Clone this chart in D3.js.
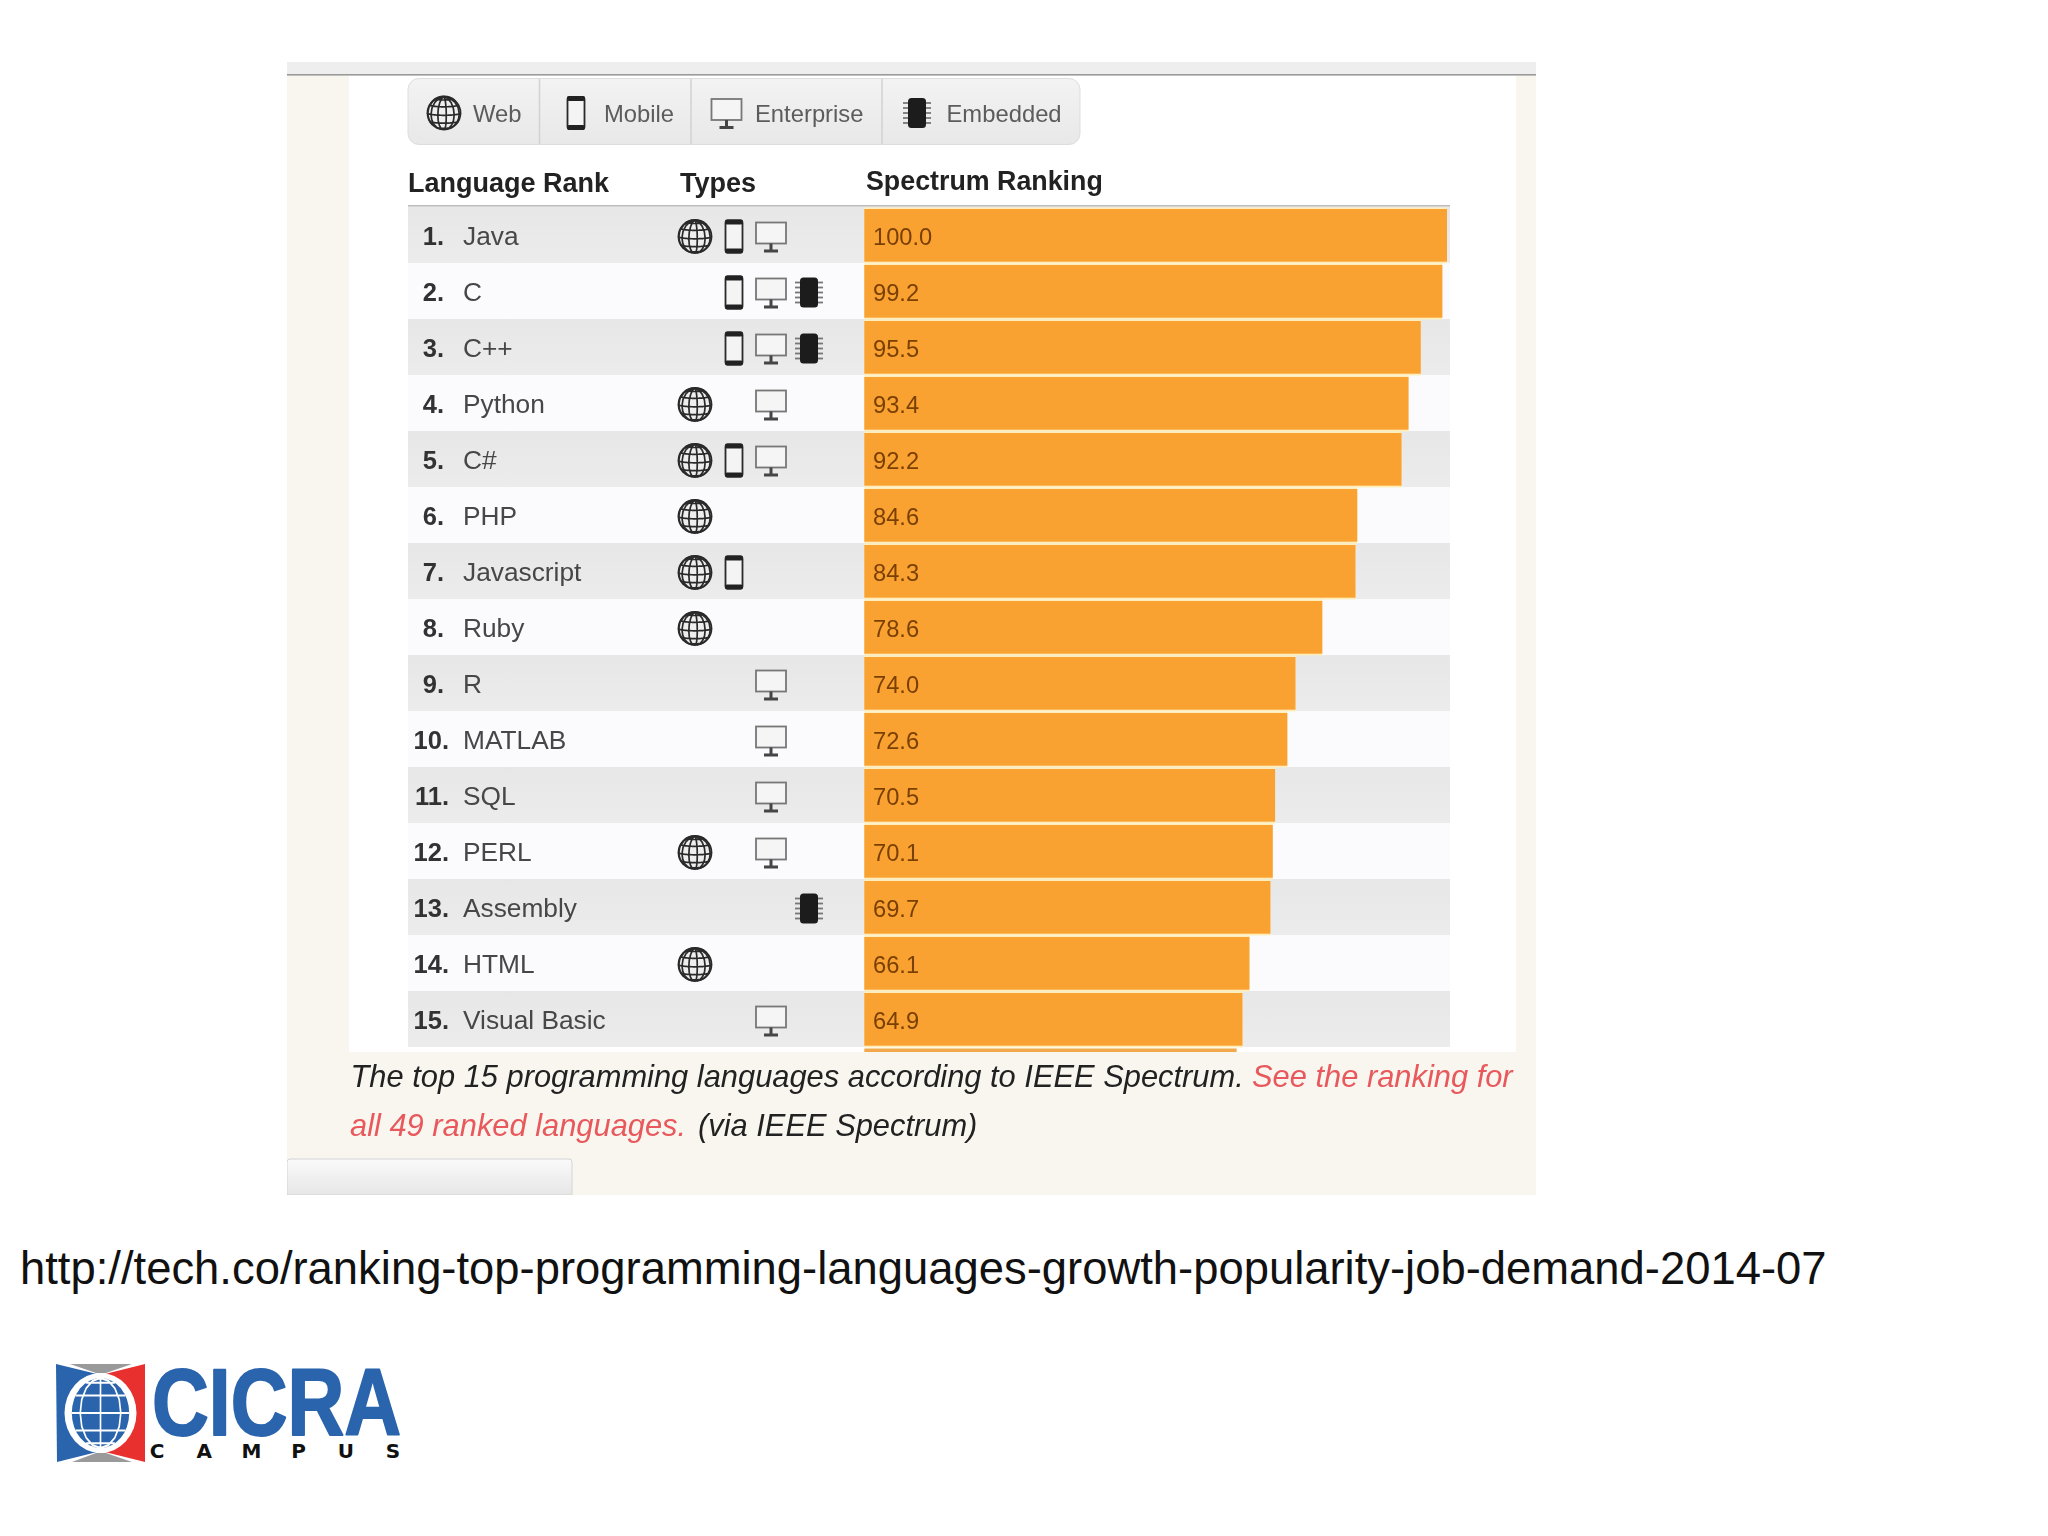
<!DOCTYPE html>
<html>
<head>
<meta charset="utf-8">
<script src="https://cdnjs.cloudflare.com/ajax/libs/d3/7.8.5/d3.min.js"></script>
<style>
  body { margin: 0; background: #fff; }
  text { font-family: "Liberation Sans", Arial, sans-serif; }
</style>
</head>
<body>
<script>
// chart values
let languages = ["Java", "C", "C++", "Python", "C#", "PHP", "Javascript", "Ruby", "R", "MATLAB", "SQL", "PERL", "Assembly", "HTML", "Visual Basic"];
let scores = [100.0, 99.2, 95.5, 93.4, 92.2, 84.6, 84.3, 78.6, 74.0, 72.6, 70.5, 70.1, 69.7, 66.1, 64.9];
let languageTypes = [
  ["Web", "Mobile", "Enterprise"],
  ["Mobile", "Enterprise", "Embedded"],
  ["Mobile", "Enterprise", "Embedded"],
  ["Web", "Enterprise"],
  ["Web", "Mobile", "Enterprise"],
  ["Web"],
  ["Web", "Mobile"],
  ["Web"],
  ["Enterprise"],
  ["Enterprise"],
  ["Enterprise"],
  ["Web", "Enterprise"],
  ["Embedded"],
  ["Web"],
  ["Enterprise"],
];
let typeNames = ["Web", "Mobile", "Enterprise", "Embedded"];
let nextScore = 63.9; // only the top edge of rank 16 shows under the table
let campusLetters = ["C", "A", "M", "P", "U", "S"];

let captionBlack = "The top 15 programming languages according to IEEE Spectrum.";
let captionRed1 = "See the ranking for";
let captionRed2 = "all 49 ranked languages.";
let captionBlack2 = "(via IEEE Spectrum)";
let sourceUrl = "http://tech.co/ranking-top-programming-languages-growth-popularity-job-demand-2014-07";

let svg = d3.select("body").append("svg").attr("width", 2048).attr("height", 1536);

let defs = svg.append("defs");
let addGradient = function (id, top, bottom) {
  let g = defs.append("linearGradient").attr("id", id).attr("x1", 0).attr("x2", 0).attr("y1", 0).attr("y2", 1);
  g.append("stop").attr("offset", "0%").attr("stop-color", top);
  g.append("stop").attr("offset", "100%").attr("stop-color", bottom);
};
addGradient("rowGrey", "#e7e7e8", "#ececed");
addGradient("toolbarGrey", "#f3f3f3", "#e8e8e8");
addGradient("tabGrey", "#fafafa", "#e6e6e6");

// the panel is a pasted screenshot, so it is a little soft
defs.append("filter").attr("id", "soft").attr("x", 0).attr("y", 0).attr("width", 1).attr("height", 1)
  .append("feGaussianBlur").attr("stdDeviation", 0.55);

// scales
let x = d3.scaleLinear().domain([0, 100]).range([864.3, 1447]);
let rows = d3.scaleBand().domain(d3.range(1, 17)).range([207, 1103]);
let typeX = d3.scaleOrdinal().domain(typeNames).range([695, 734, 771, 809]);
let toolbarX = d3.scaleOrdinal().domain(typeNames).range([444, 576, 726.5, 917]);
let toolbarTextX = d3.scaleOrdinal().domain(typeNames).range([473, 604, 755, 946.5]);

let panel = svg.append("g").attr("filter", "url(#soft)");

// page panel
panel.append("rect").attr("x", 287).attr("y", 62).attr("width", 1249).attr("height", 1133).attr("fill", "#f8f6ee");
panel.append("rect").attr("x", 349).attr("y", 75).attr("width", 1167).attr("height", 977).attr("fill", "#fff");
panel.append("rect").attr("x", 287).attr("y", 62).attr("width", 1249).attr("height", 13).attr("fill", "#eeeeee");
panel.append("rect").attr("x", 287).attr("y", 74).attr("width", 1249).attr("height", 1.6).attr("fill", "#9a9a9a");
panel.append("path").attr("d", "M287,1195V1162q0,-3,3,-3H569q3,0,3,3V1195Z").attr("fill", "url(#tabGrey)").attr("stroke", "#d4d4d4");

// icons, drawn around 0,0
let globeIcon = function (g) {
  let projection = d3.geoOrthographic().scale(16.5).translate([0, 0]).rotate([8, -8]).clipAngle(90);
  let path = d3.geoPath(projection);
  g.append("circle").attr("r", 16.5).attr("fill", "#eee").attr("stroke", "#2a2a2a").attr("stroke-width", 1.8);
  g.append("path").datum(d3.geoGraticule().step([30, 30])()).attr("d", path).attr("fill", "none").attr("stroke", "#2a2a2a").attr("stroke-width", 1.7);
};
let phoneIcon = function (g) {
  g.append("rect").attr("x", -8.5).attr("y", -16).attr("width", 17).attr("height", 32).attr("rx", 2.5).attr("fill", "#f4f4f4").attr("stroke", "#2a2a2a").attr("stroke-width", 1.8);
  g.append("rect").attr("x", -9).attr("y", -17).attr("width", 18).attr("height", 5).attr("rx", 2).attr("fill", "#222");
  g.append("rect").attr("x", -9).attr("y", 12).attr("width", 18).attr("height", 5).attr("rx", 2).attr("fill", "#222");
};
let monitorIcon = function (g) {
  g.append("rect").attr("x", -15).attr("y", -14).attr("width", 30).attr("height", 21).attr("fill", "#f5f5f5").attr("stroke", "#777").attr("stroke-width", 1.8);
  g.append("rect").attr("x", -1.5).attr("y", 7).attr("width", 3).attr("height", 7).attr("fill", "#444");
  g.append("rect").attr("x", -7).attr("y", 13).attr("width", 14).attr("height", 3).attr("fill", "#444");
};
let chipIcon = function (g) {
  g.selectAll("rect.pin").data(d3.range(-10, 11, 5)).join("rect").attr("class", "pin")
    .attr("x", -14).attr("y", (d) => d - 0.9).attr("width", 28).attr("height", 1.8).attr("fill", "#777");
  g.append("rect").attr("x", -9).attr("y", -15).attr("width", 18).attr("height", 30).attr("rx", 3.5).attr("fill", "#1c1c1c");
};
let iconFor = { Web: globeIcon, Mobile: phoneIcon, Enterprise: monitorIcon, Embedded: chipIcon };

// toolbar
panel.append("rect").attr("x", 408).attr("y", 78.5).attr("width", 672).attr("height", 66).attr("rx", 11).attr("fill", "url(#toolbarGrey)").attr("stroke", "#dddddd");
panel.selectAll("line.divider").data([539.5, 691, 882]).join("line").attr("class", "divider")
  .attr("x1", (d) => d).attr("x2", (d) => d).attr("y1", 79).attr("y2", 144).attr("stroke", "#d2d2d2").attr("stroke-width", 1.5);
typeNames.forEach(function (t) {
  panel.append("g").attr("transform", `translate(${toolbarX(t)},113)`).call(iconFor[t]);
  panel.append("text").attr("x", toolbarTextX(t)).attr("y", 122).attr("font-size", 23.8).attr("fill", "#5c5c5c").text(t);
});

// header
panel.append("text").attr("x", 408).attr("y", 192).attr("font-size", 27).attr("font-weight", "bold").attr("fill", "#222").text("Language Rank");
panel.append("text").attr("x", 680).attr("y", 192).attr("font-size", 27).attr("font-weight", "bold").attr("fill", "#222").text("Types");
panel.append("text").attr("x", 866).attr("y", 190).attr("font-size", 26.8).attr("font-weight", "bold").attr("fill", "#222").text("Spectrum Ranking");
panel.append("rect").attr("x", 408).attr("y", 205).attr("width", 1042).attr("height", 1.6).attr("fill", "#bcbcbc");

let table = languages.map((name, i) => ({ rank: i + 1, name: name, score: scores[i], types: languageTypes[i] }));

// rows
panel.selectAll("rect.rowbg").data(table).join("rect").attr("class", "rowbg")
  .attr("x", 408).attr("y", (d) => rows(d.rank)).attr("width", 1042).attr("height", rows.bandwidth())
  .attr("fill", (d) => (d.rank % 2 ? "url(#rowGrey)" : "#fbfbfd"));

// cream stripe between bars, then the bars
panel.selectAll("rect.stripe").data(table).join("rect").attr("class", "stripe")
  .attr("x", x(0)).attr("y", (d) => rows(d.rank) + 0.5).attr("width", (d) => x(d.score) - x(0)).attr("height", 56)
  .attr("fill", "#fdeebc");
panel.selectAll("rect.bar").data(table).join("rect").attr("class", "bar")
  .attr("x", x(0)).attr("y", (d) => rows(d.rank) + 2).attr("width", (d) => x(d.score) - x(0)).attr("height", 52.7)
  .attr("fill", "#f9a233");
panel.append("rect").attr("x", x(0)).attr("y", rows(16) + 1.5).attr("width", x(nextScore) - x(0)).attr("height", 3.5).attr("fill", "#f2a94c");

panel.selectAll("text.rank").data(table).join("text").attr("class", "rank")
  .attr("x", (d) => (d.rank < 10 ? 444 : 449)).attr("y", (d) => rows(d.rank) + 38).attr("text-anchor", "end")
  .attr("font-size", 25.5).attr("font-weight", "bold").attr("fill", "#333").text((d) => d.rank + ".");
panel.selectAll("text.name").data(table).join("text").attr("class", "name")
  .attr("x", 463).attr("y", (d) => rows(d.rank) + 38)
  .attr("font-size", 26.3).attr("fill", "#474747").text((d) => d.name);
panel.selectAll("text.score").data(table).join("text").attr("class", "score")
  .attr("x", 873).attr("y", (d) => rows(d.rank) + 38)
  .attr("font-size", 23.7).attr("fill", "#7a3f05").text((d) => d.score.toFixed(1));

table.forEach(function (d) {
  d.types.forEach(function (t) {
    panel.append("g").attr("transform", `translate(${typeX(t)},${rows(d.rank) + 29.5})`).call(iconFor[t]);
  });
});

// caption
let caption = panel.append("g").attr("font-size", 30.85).attr("font-style", "italic");
caption.append("text").attr("x", 350.5).attr("y", 1087).attr("fill", "#222").text(captionBlack);
caption.append("text").attr("x", 1252).attr("y", 1087).attr("fill", "#e8585c").text(captionRed1);
caption.append("text").attr("x", 350).attr("y", 1136).attr("fill", "#e8585c").text(captionRed2);
caption.append("text").attr("x", 698).attr("y", 1136).attr("fill", "#222").text(captionBlack2);

// source line
svg.append("text").attr("x", 20).attr("y", 1284).attr("font-size", 45.4).attr("fill", "#111").text(sourceUrl);

// logo
let logo = svg.append("g");
logo.append("polygon").attr("points", "56,1364 97,1374 97,1452 57,1462").attr("fill", "#2a64ad");
logo.append("polygon").attr("points", "145,1364 105,1374 105,1452 145,1462").attr("fill", "#e8302f");
logo.append("polygon").attr("points", "70,1364 132,1364 106,1373 96,1373").attr("fill", "#9a9a9a");
logo.append("polygon").attr("points", "72,1462 132,1462 106,1453 96,1453").attr("fill", "#9a9a9a");
logo.append("ellipse").attr("cx", 100.5).attr("cy", 1413).attr("rx", 36).attr("ry", 40).attr("fill", "#fff");
let logoGlobe = logo.append("g").attr("transform", "translate(100.5,1413) scale(0.82,1)");
let logoProjection = d3.geoOrthographic().scale(35).translate([0, 0]).clipAngle(90);
logoGlobe.append("circle").attr("r", 35).attr("fill", "#2a64ad");
logoGlobe.append("path").datum(d3.geoGraticule().step([45, 30])()).attr("d", d3.geoPath(logoProjection))
  .attr("fill", "none").attr("stroke", "#fff").attr("stroke-width", 2);
logo.append("text").attr("x", 152).attr("y", 1435).attr("font-size", 94).attr("font-weight", "bold")
  .attr("textLength", 249).attr("lengthAdjust", "spacingAndGlyphs")
  .attr("fill", "#2a64ad").attr("stroke", "#2a64ad").attr("stroke-width", 2).attr("stroke-linejoin", "round").text("CICRA");
let campusX = d3.scalePoint().domain(campusLetters).range([157, 393]);
logo.selectAll("text.campus").data(campusLetters).join("text").attr("class", "campus")
  .attr("x", (d) => campusX(d)).attr("y", 1458).attr("text-anchor", "middle")
  .style("font-family", "'DejaVu Sans', sans-serif")
  .attr("font-size", 20).attr("font-weight", "bold").attr("fill", "#111").text((d) => d);
</script>
</body>
</html>
